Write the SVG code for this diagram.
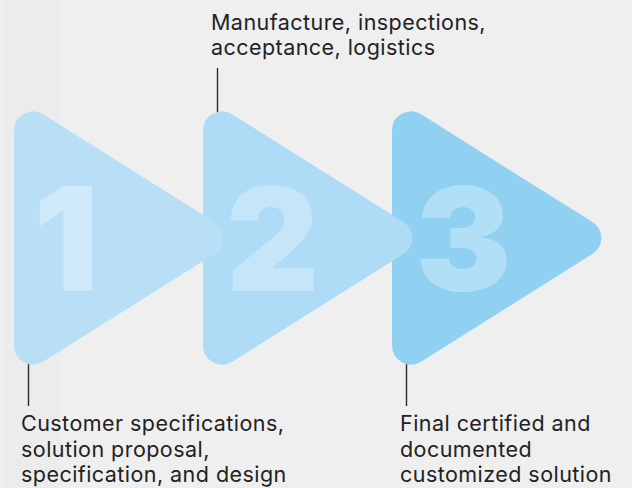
<svg xmlns="http://www.w3.org/2000/svg" xmlns:xlink="http://www.w3.org/1999/xlink" width="632" height="488" viewBox="0 0 632 488">
<style>
.lbl{font-family:Inter,"Liberation Sans",Arial,sans-serif;font-size:21.5px;letter-spacing:0.45px;fill:#222222}
.num{font-family:Inter,"Liberation Sans",Arial,sans-serif;font-weight:900;font-size:144px;text-anchor:middle}
.conn line{stroke:#2a2a2a;stroke-width:1.4}
</style>
<defs>
<path id="tri" d="M0,130.4 A19,19 0 0 1 29.1,114.3 L200.4,221.9 A19,19 0 0 1 200.4,254.1 L29.1,361.7 A19,19 0 0 1 0,345.6 Z"/>
</defs>
<rect width="632" height="488" fill="#efefef"/>
<rect x="5" y="0" width="57" height="488" fill="#ececed"/>
<g id="connectors" class="conn">
<line x1="28.5" y1="350" x2="28.5" y2="406"/>
<line x1="217.5" y1="68" x2="217.5" y2="125"/>
<line x1="406.5" y1="350" x2="406.5" y2="406"/>
</g>
<g id="step3">
<use xlink:href="#tri" x="392" fill="#90d1f2"/>
<text class="num" x="463.5" y="291" fill="#b1dff6">3</text>
</g>
<g id="step2">
<use xlink:href="#tri" x="203" fill="#aedbf5"/>
<text class="num" x="272.5" y="291" fill="#c4e6f8">2</text>
</g>
<g id="step1">
<use xlink:href="#tri" x="14" fill="#b9dff6"/>
<text class="num" x="66" y="291" fill="#cfeafa">1</text>
</g>
<g id="label2">
<text class="lbl" x="211" y="30">Manufacture, inspections,</text>
<text class="lbl" x="211" y="55">acceptance, logistics</text>
</g>
<g id="label1">
<text class="lbl" x="21" y="431">Customer specifications,</text>
<text class="lbl" x="21" y="456.5">solution proposal,</text>
<text class="lbl" x="21" y="482">specification, and design</text>
</g>
<g id="label3">
<text class="lbl" x="400" y="431">Final certified and</text>
<text class="lbl" x="400" y="456.5">documented</text>
<text class="lbl" x="400" y="482">customized solution</text>
</g>
</svg>
